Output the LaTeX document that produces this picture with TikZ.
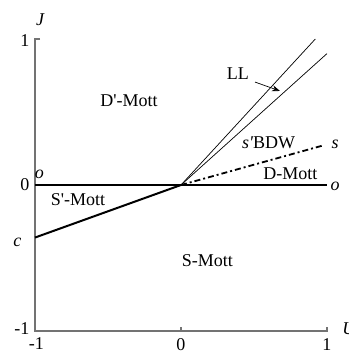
\documentclass[tikz,border=0pt]{standalone}
\usepackage{fontspec}
\setmainfont{Liberation Serif}
\usetikzlibrary{arrows.meta,calc}
\begin{document}
\begin{tikzpicture}[x=146pt,y=146pt,
  axis/.style={draw=black!55,line width=1.3pt},
  thick line/.style={line width=2pt},
  thin line/.style={line width=0.7pt},
  lbl/.style={font=\fontsize{18}{20}\selectfont,inner sep=0pt},
  ilbl/.style={font=\fontsize{18}{20}\selectfont\itshape,inner sep=0pt}]
\useasboundingbox (-1.2397,-1.1507) rectangle (1.1507,1.2671);
% axes
\coordinate (O) at (0,0);
\coordinate (ytop) at (-1,1);
\coordinate (corner) at (-1,-1);
\coordinate (xend) at (1,-1);
\draw[axis] ($(ytop)+(0.035,0)$) -- (ytop) -- (corner) -- (xend) -- ++(0,0.03);
\draw[axis] (0,-1) -- (0,-0.97);
% tick labels
\node[lbl] (y1) at (-1.07,0.99) {1};
\node[lbl] (y0) at (-1.07,0) {0};
\node[lbl] (ym1) at (-1.09,-0.98) {-1};
\node[lbl] (xm1) at (-0.99,-1.085) {-1};
\node[lbl] (x0) at (0,-1.09) {0};
\node[lbl] (x1) at (1,-1.095) {1};
\node[ilbl] (J) at (-0.965,1.13) {J};
\node[ilbl] (U) at (1.15,-0.985) {U};
% phase lines
\coordinate (oL) at (-1,0);
\coordinate (oR) at (1,0);
\coordinate (cpt) at (-1,-0.36);
\coordinate (LLa) at (0.92,1.0);
\coordinate (LLb) at (1.0,0.9);
\coordinate (spt) at (0.97,0.27);
\draw[thick line] (oL) -- (oR);
\draw[thick line] (cpt) -- (O);
\draw[thin line] (O) -- (LLa);
\draw[thin line] (O) -- (LLb);
\draw[line width=1.8pt,dash pattern=on 6pt off 3pt on 2pt off 3pt] (O) -- (spt);
% labels
\node[ilbl] (oLl) at (-0.97,0.075) {o};
\node[ilbl] (oRl) at (1.055,-0.01) {o};
\node[ilbl] (cl) at (-1.12,-0.39) {c};
\node[ilbl] (sl) at (1.055,0.28) {s};
\node[lbl] (Dp) at (-0.356,0.58) {D\textquotesingle-Mott};
\node[lbl] (Sp) at (-0.705,-0.1) {S\textquotesingle-Mott};
\node[lbl] (S) at (0.18,-0.52) {S-Mott};
\node[lbl] (D) at (0.75,0.075) {D-Mott};
\node[lbl] (BDW) at (0.6,0.29) {\textit{s\textquotesingle}BDW};
\node[lbl] (LL) at (0.39,0.76) {LL};
\coordinate (LLfrom) at (0.507,0.705);
\coordinate (LLtip) at (0.678,0.644);
\draw[thin line,-{Stealth[length=8pt,width=6pt]}] (LLfrom) -- (LLtip);
\end{tikzpicture}
\end{document}
